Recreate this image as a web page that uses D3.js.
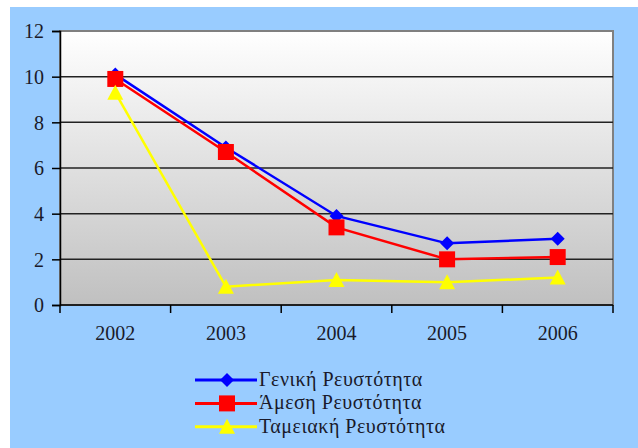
<!DOCTYPE html>
<html>
<head>
<meta charset="utf-8">
<script src="https://cdn.jsdelivr.net/npm/d3@7"></script>
<style>
  html, body { margin: 0; padding: 0; background: #ffffff; }
  svg { display: block; }
  .lbl { font-family: "Liberation Serif", "Times New Roman", "DejaVu Serif", serif; fill: #1a1a2a; }
</style>
</head>
<body>
<svg id="chart" width="638" height="448"></svg>
<script>
// Liquidity ratios by year
const years = ["2002", "2003", "2004", "2005", "2006"];
const generalLiquidity = [10.1, 6.9, 3.9, 2.7, 2.9];
const quickLiquidity = [9.9, 6.7, 3.4, 2.0, 2.1];
const cashLiquidity = [9.3, 0.8, 1.1, 1.0, 1.2];
const yTicks = [0, 2, 4, 6, 8, 10, 12];
const seriesNames = ["Γενική Ρευστότητα", "Άμεση Ρευστότητα", "Ταμειακή Ρευστότητα"];

const series = [
  { name: seriesNames[0], values: generalLiquidity, color: "#0000ff", marker: "diamond" },
  { name: seriesNames[1], values: quickLiquidity, color: "#ff0000", marker: "square" },
  { name: seriesNames[2], values: cashLiquidity, color: "#ffff00", marker: "triangle" }
];

const svg = d3.select("#chart");

// Blue chart frame
svg.append("rect").attr("x", 10).attr("y", 7).attr("width", 628).attr("height", 441).attr("fill", "#99ccff");

const plot = { left: 60, top: 31, right: 613, bottom: 305 };

const x = d3.scaleBand().domain(years).range([plot.left, plot.right]);
const y = d3.scaleLinear().domain([0, 12]).range([plot.bottom, plot.top]);

// Plot area gradient
const defs = svg.append("defs");
const grad = defs.append("linearGradient").attr("id", "plotGrad").attr("x1", 0).attr("y1", 0).attr("x2", 0).attr("y2", 1);
grad.append("stop").attr("offset", "0%").attr("stop-color", "#ffffff");
grad.append("stop").attr("offset", "100%").attr("stop-color", "#c0c0c0");

svg.append("rect")
  .attr("x", plot.left).attr("y", plot.top)
  .attr("width", plot.right - plot.left).attr("height", plot.bottom - plot.top)
  .attr("fill", "url(#plotGrad)")
  .attr("stroke", "#808080").attr("stroke-width", 2);

// Horizontal gridlines
svg.append("g")
  .selectAll("line")
  .data(yTicks.filter(d => d > 0 && d < 12))
  .join("line")
  .attr("x1", plot.left).attr("x2", plot.right)
  .attr("y1", d => y(d)).attr("y2", d => y(d))
  .attr("stroke", "#222").attr("stroke-width", 1.5);

// Y axis
const yAxis = svg.append("g")
  .attr("transform", `translate(${plot.left},0)`)
  .call(d3.axisLeft(y).tickValues(yTicks).tickSize(8).tickPadding(8).tickFormat(d3.format("d")));
yAxis.attr("font-family", null).attr("font-size", null);
yAxis.select(".domain").attr("stroke", "#000").attr("stroke-width", 1.5);
yAxis.selectAll(".tick line").attr("stroke", "#000").attr("stroke-width", 1.5);
yAxis.selectAll("text").attr("class", "lbl").attr("fill", null).attr("dy", "0.34em").style("font-size", "20px");

// X axis with ticks between categories
const xAxisG = svg.append("g").attr("transform", `translate(0,${plot.bottom})`);
xAxisG.append("line")
  .attr("x1", plot.left).attr("x2", plot.right)
  .attr("stroke", "#000").attr("stroke-width", 1.5);
const boundaries = years.map(d => x(d)).concat([x(years[years.length - 1]) + x.bandwidth()]);
xAxisG.selectAll("line.tk")
  .data(boundaries)
  .join("line").attr("class", "tk")
  .attr("x1", d => d).attr("x2", d => d)
  .attr("y1", 0).attr("y2", 8)
  .attr("stroke", "#000").attr("stroke-width", 1.5);
xAxisG.selectAll("text")
  .data(years)
  .join("text")
  .attr("class", "lbl")
  .attr("x", d => x(d) + x.bandwidth() / 2)
  .attr("y", 35)
  .attr("text-anchor", "middle")
  .style("font-size", "20px")
  .text(d => d);

// Marker shapes
function markerPath(type) {
  if (type === "diamond") return "M0,-7L7,0L0,7L-7,0Z";
  if (type === "square") return "M-8,-8H8V8H-8Z";
  return "M0,-8L8,7H-8Z";
}

const line = d3.line()
  .x((d, i) => x(years[i]) + x.bandwidth() / 2)
  .y(d => y(d));

series.forEach(s => {
  const g = svg.append("g");
  g.append("path")
    .attr("d", line(s.values))
    .attr("fill", "none")
    .attr("stroke", s.color)
    .attr("stroke-width", 2.5);
  g.selectAll("path.m")
    .data(s.values)
    .join("path").attr("class", "m")
    .attr("d", markerPath(s.marker))
    .attr("transform", (d, i) => `translate(${x(years[i]) + x.bandwidth() / 2},${y(d)})`)
    .attr("fill", s.color);
});

// Legend
const legend = svg.append("g").attr("transform", "translate(195,380)");
series.forEach((s, i) => {
  const row = legend.append("g").attr("transform", `translate(0,${i * 23.4})`);
  row.append("line").attr("x1", 0).attr("x2", 62).attr("y1", 0).attr("y2", 0)
    .attr("stroke", s.color).attr("stroke-width", 3);
  row.append("path").attr("d", markerPath(s.marker))
    .attr("transform", "translate(32,0)").attr("fill", s.color);
  row.append("text").attr("class", "lbl").attr("x", 64).attr("y", 6)
    .style("font-size", "20px").style("letter-spacing", "0.5px")
    .text(s.name);
});
</script>
</body>
</html>
